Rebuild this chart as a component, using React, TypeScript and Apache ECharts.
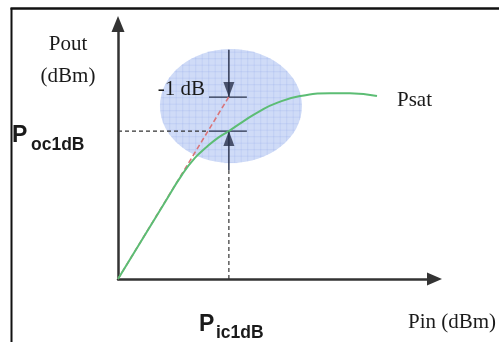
import React, { useEffect, useRef } from "react";
import * as echarts from "echarts";

// Axis extents (dBm)
const pinAxisMax = 15.3;
const poutAxisMax = 7.5;

// Amplifier transfer curve: output power vs input power
const curvePin = [0, 2.27, 3.1, 3.72, 4.3, 4.83, 5.36, 6.04, 6.86, 7.68, 8.8, 10.25, 11.21, 12.52];
const curvePout = [0, 2.26, 3.07, 3.56, 3.89, 4.15, 4.35, 4.63, 4.94, 5.18, 5.38, 5.46, 5.46, 5.38];

// Ideal linear (small-signal) extrapolation
const linearPin = [0, 5.36];
const linearPout = [0, 5.36];

// 1 dB compression point
const p1dBIn = 5.36;
const p1dBOut = 4.35;
const compressionDb = 1;

// Marker geometry in data units
const tickFrom = 4.4;
const tickTo = 6.23;
const upperLeadTop = 6.74;
const lowerLeadBottom = 3.2;

const serif = "'Liberation Serif', 'Times New Roman', serif";
const sans = "'Liberation Sans', Arial, sans-serif";

const seg = (pts: number[][], color: string, width: number, type: any = "solid") => ({
  type: "line",
  data: pts,
  symbol: "none",
  silent: true,
  lineStyle: { color, width, type },
  z: 4,
});

export default function App() {
  const ref = useRef<HTMLDivElement>(null);

  useEffect(() => {
    document.body.style.margin = "0";
    const chart = echarts.init(ref.current!, null, { renderer: "svg" });
    const linearAtP1 = p1dBOut + compressionDb;
    const markColor = "#27304a";

    chart.setOption({
      animation: false,
      grid: { left: 118, top: 24, width: 316.5, height: 255 },
      xAxis: {
        type: "value",
        min: 0,
        max: pinAxisMax,
        axisLine: {
          show: true,
          lineStyle: { color: "#333333", width: 2.5 },
          symbol: ["none", "triangle"],
          symbolSize: [13, 15],
        },
        axisTick: { show: false },
        axisLabel: { show: false },
        splitLine: { show: false },
      },
      yAxis: {
        type: "value",
        min: 0,
        max: poutAxisMax,
        axisLine: {
          show: true,
          lineStyle: { color: "#333333", width: 2.5 },
          symbol: ["none", "triangle"],
          symbolSize: [13, 16],
        },
        axisTick: { show: false },
        axisLabel: { show: false },
        splitLine: { show: false },
      },
      series: [
        // guide lines to the axes
        seg([[0, p1dBOut], [tickFrom, p1dBOut]], "#333333", 1.2, [4, 3]),
        seg([[p1dBIn, 0], [p1dBIn, lowerLeadBottom]], "#333333", 1.2, [4, 3]),
        // level ticks
        seg([[tickFrom, linearAtP1], [tickTo, linearAtP1]], markColor, 1.4),
        seg([[tickFrom, p1dBOut], [tickTo, p1dBOut]], markColor, 1.4),
        // arrow leads
        seg([[p1dBIn, upperLeadTop], [p1dBIn, linearAtP1]], markColor, 1.4),
        seg([[p1dBIn, p1dBOut], [p1dBIn, lowerLeadBottom]], markColor, 1.4),
        {
          type: "line",
          name: "linear",
          data: linearPin.map((x, i) => [x, linearPout[i]]),
          symbol: "none",
          lineStyle: { color: "#d9757a", width: 1.6, type: [5, 3] },
          z: 5,
        },
        {
          type: "line",
          name: "Pout",
          data: curvePin.map((x, i) => [x, curvePout[i]]),
          symbol: "none",
          smooth: 0.5,
          lineStyle: { color: "#5cbd74", width: 2 },
          z: 6,
        },
        {
          type: "scatter",
          data: [[p1dBIn, linearAtP1]],
          symbol: "triangle",
          symbolRotate: 180,
          symbolSize: [11, 15],
          symbolOffset: [0, -7.5],
          itemStyle: { color: markColor },
          z: 7,
        },
        {
          type: "scatter",
          data: [[p1dBIn, p1dBOut]],
          symbol: "triangle",
          symbolSize: [11, 15],
          symbolOffset: [0, 7.5],
          itemStyle: { color: markColor },
          z: 7,
        },
      ],
    });

    // Highlight ellipse around the compression region, with a fine grid
    const [cx, cy] = chart.convertToPixel({ gridIndex: 0 }, [5.46, 5.09]) as number[];
    const rx = 71;
    const ry = 57;
    const step = 6.5;
    const gridStroke = "rgba(140,165,230,0.3)";
    const gridLines: any[] = [];
    for (let x = cx - rx + step / 2; x < cx + rx; x += step) {
      const h = ry * Math.sqrt(Math.max(0, 1 - ((x - cx) / rx) ** 2));
      gridLines.push({
        type: "line",
        shape: { x1: x, y1: cy - h, x2: x, y2: cy + h },
        style: { stroke: gridStroke, lineWidth: 0.7 },
        silent: true,
      });
    }
    for (let y = cy - ry + step / 2; y < cy + ry; y += step) {
      const w = rx * Math.sqrt(Math.max(0, 1 - ((y - cy) / ry) ** 2));
      gridLines.push({
        type: "line",
        shape: { x1: cx - w, y1: y, x2: cx + w, y2: y },
        style: { stroke: gridStroke, lineWidth: 0.7 },
        silent: true,
      });
    }

    const txt = (text: string, x: number, y: number, font: string, size: number, weight = "normal", align = "left") => ({
      type: "text",
      x,
      y,
      silent: true,
      style: {
        text,
        fill: "#1a1a1a",
        font: `${weight} ${size}px ${font}`,
        align,
        verticalAlign: "middle",
      },
    });

    chart.setOption({
      graphic: [
        // frame
        { type: "line", shape: { x1: 10.5, y1: 8.5, x2: 499, y2: 8.5 }, style: { stroke: "#111", lineWidth: 2.5 } },
        { type: "line", shape: { x1: 11.5, y1: 8, x2: 11.5, y2: 342 }, style: { stroke: "#111", lineWidth: 2 } },
        { type: "ellipse", shape: { cx, cy, rx, ry }, style: { fill: "#cfdbf7" }, silent: true },
        ...gridLines,
        txt("Pout", 68, 43, serif, 21, "normal", "center"),
        txt("(dBm)", 68, 75, serif, 21, "normal", "center"),
        txt("-1 dB", 205, 88, serif, 21, "normal", "right"),
        txt("Psat", 397, 99, serif, 21),
        txt("Pin (dBm)", 408, 321, serif, 21),
        txt("P", 12, 134, sans, 23, "bold"),
        txt("oc1dB", 31, 144, sans, 17.5, "bold"),
        txt("P", 199, 323, sans, 23, "bold"),
        txt("ic1dB", 216, 332, sans, 17.5, "bold"),
      ],
    });

    return () => chart.dispose();
  }, []);

  return <div ref={ref} style={{ position: "fixed", left: 0, top: 0, width: 499, height: 342 }} />;
}
